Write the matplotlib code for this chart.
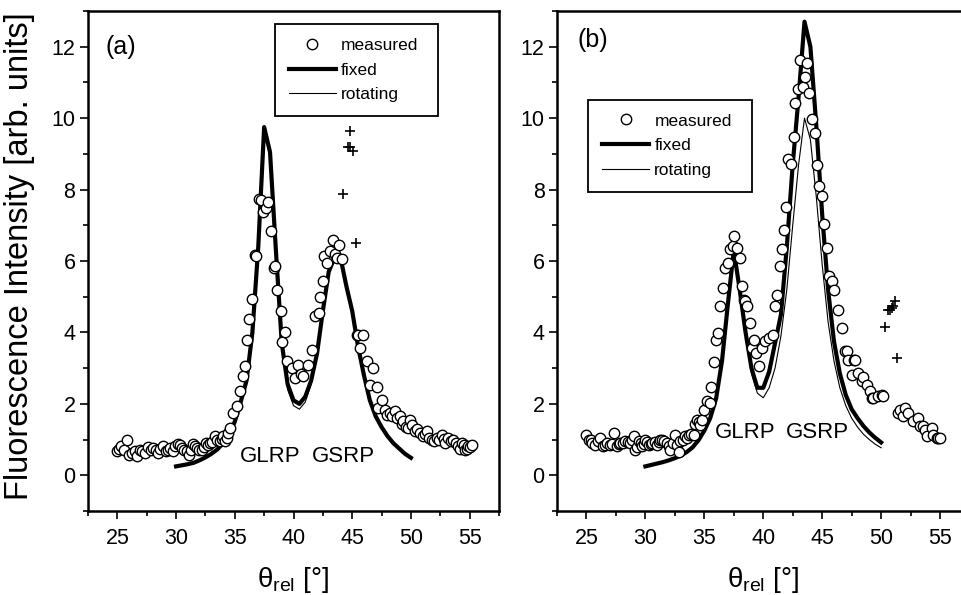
import numpy as np
import matplotlib
matplotlib.use('Agg')
import matplotlib.pyplot as plt
from matplotlib.ticker import MultipleLocator

plt.rcParams['font.family'] = ['Liberation Sans', 'DejaVu Sans']
plt.rcParams['mathtext.fontset'] = 'custom'
plt.rcParams['mathtext.rm'] = 'Liberation Sans'

# model curves, sampled every 0.5 deg from 30 to 50
theta_fit = np.arange(30, 50.01, 0.5)
fixed_a = [0.25, 0.28, 0.31, 0.35, 0.42, 0.50, 0.60, 0.72, 0.90, 1.15,
           1.50, 2.05, 2.65, 4.00, 6.40, 9.75, 9.05, 6.30, 3.70, 2.55,
           2.10, 2.00, 2.20, 2.65, 3.40, 4.60, 5.70, 6.10, 6.10, 5.30,
           4.60, 3.60, 2.80, 2.10, 1.65, 1.35, 1.10, 0.90, 0.75, 0.60, 0.49]
rotating_a = [0.25, 0.28, 0.31, 0.35, 0.42, 0.50, 0.60, 0.72, 0.90, 1.14,
              1.48, 2.02, 2.60, 3.95, 6.30, 9.60, 8.95, 6.20, 3.60, 2.40,
              1.95, 1.85, 2.05, 2.55, 3.35, 4.55, 5.65, 6.05, 6.05, 5.25,
              4.55, 3.55, 2.75, 2.05, 1.62, 1.33, 1.08, 0.89, 0.74, 0.60, 0.49]
fixed_b = [0.25, 0.29, 0.33, 0.37, 0.42, 0.48, 0.55, 0.65, 0.78, 0.98,
           1.25, 1.60, 2.15, 3.20, 4.80, 6.30, 5.20, 4.00, 3.00, 2.45,
           2.45, 2.90, 3.70, 4.50, 6.40, 8.70, 10.60, 12.70, 12.00, 9.80,
           7.30, 5.20, 3.75, 2.85, 2.25, 1.85, 1.60, 1.38, 1.20, 1.05, 0.92]
rotating_b = [0.25, 0.29, 0.33, 0.37, 0.42, 0.48, 0.55, 0.65, 0.78, 0.97,
              1.23, 1.58, 2.12, 3.15, 4.75, 6.20, 5.20, 3.90, 2.85, 2.30,
              2.17, 2.45, 3.00, 3.90, 5.20, 7.00, 8.70, 10.00, 9.40, 7.80,
              5.90, 4.30, 3.20, 2.45, 1.95, 1.60, 1.35, 1.15, 1.00, 0.87, 0.77]

# measured points, panel (a)
meas_a_x = [24.94, 25.10, 25.28, 25.57, 25.80, 26.00, 26.25, 26.50, 26.65, 26.93,
            27.10, 27.35, 27.64, 27.85, 28.06, 28.25, 28.43, 28.65, 28.86, 29.14,
            29.30, 29.48, 29.70, 29.90, 30.19, 30.35, 30.48, 30.70, 30.90, 31.10,
            31.25, 31.42, 31.60, 31.76, 31.95, 32.18, 32.35, 32.52, 32.70, 32.89,
            33.10, 33.32, 33.50, 33.74, 33.90, 34.03, 34.20, 34.31, 34.45, 34.60,
            34.88, 35.22, 35.45, 35.68, 35.87, 36.07, 36.24, 36.44, 36.72, 36.80,
            37.09, 37.20, 37.43, 37.66, 37.86, 38.06, 38.34, 38.45, 38.57, 38.91,
            39.00, 39.28, 39.42, 39.85, 40.13, 40.41, 40.60, 40.84, 41.27, 41.55,
            41.84, 42.13, 42.26, 42.50, 42.60, 42.88, 43.11, 43.40, 43.55, 43.69,
            43.91, 44.11, 45.38, 45.53, 45.67, 45.95, 46.24, 46.52, 46.75, 47.09,
            47.22, 47.52, 47.80, 47.95, 48.22, 48.40, 48.65, 48.80, 49.08, 49.20,
            49.36, 49.60, 49.78, 49.93, 50.10, 50.35, 50.55, 50.78, 51.06, 51.20,
            51.35, 51.55, 51.77, 52.00, 52.20, 52.40, 52.63, 52.80, 52.91, 53.19,
            53.40, 53.62, 53.80, 54.04, 54.20, 54.33, 54.50, 54.61, 54.75, 54.89,
            55.00, 55.18]
meas_a_y = [0.69, 0.75, 0.81, 0.72, 1.00, 0.58, 0.62, 0.67, 0.53, 0.72,
            0.68, 0.63, 0.79, 0.70, 0.77, 0.72, 0.63, 0.74, 0.81, 0.67,
            0.72, 0.77, 0.68, 0.81, 0.88, 0.85, 0.77, 0.72, 0.67, 0.58,
            0.70, 0.88, 0.82, 0.77, 0.70, 0.72, 0.80, 0.91, 0.86, 0.91,
            0.92, 1.09, 1.00, 0.95, 1.02, 1.09, 0.95, 1.05, 1.18, 1.33,
            1.75, 1.93, 2.35, 2.77, 3.05, 3.80, 4.37, 4.95, 6.17, 6.15,
            7.73, 7.70, 7.36, 7.48, 7.66, 6.84, 5.80, 5.85, 5.19, 4.59,
            3.72, 4.00, 3.19, 3.00, 2.72, 3.10, 2.85, 2.77, 3.10, 3.52,
            4.45, 4.54, 5.00, 5.43, 6.15, 5.94, 6.27, 6.59, 6.20, 6.08,
            6.45, 6.05, 3.94, 3.94, 3.56, 3.94, 3.19, 2.54, 3.00, 2.47,
            1.89, 2.12, 1.84, 1.70, 1.75, 1.65, 1.79, 1.60, 1.65, 1.45,
            1.51, 1.35, 1.33, 1.56, 1.40, 1.23, 1.30, 1.19, 1.09, 1.15,
            1.23, 1.05, 1.00, 0.95, 1.05, 1.00, 1.14, 1.02, 0.91, 1.05,
            0.95, 1.00, 0.90, 0.81, 0.75, 0.91, 0.86, 0.72, 0.75, 0.81,
            0.78, 0.86]
excl_a_x = [44.25, 44.67, 44.82, 44.85, 45.10, 45.33]
excl_a_y = [7.88, 9.20, 9.64, 9.18, 9.08, 6.50]

# measured points, panel (b)
meas_b_x = [25.00, 25.20, 25.35, 25.48, 25.76, 25.95, 26.19, 26.41, 26.60, 26.75,
            27.03, 27.20, 27.31, 27.60, 27.75, 27.88, 28.10, 28.31, 28.50, 28.73,
            28.90, 29.00, 29.15, 29.30, 29.43, 29.60, 29.72, 29.85, 30.00, 30.15,
            30.28, 30.45, 30.57, 30.80, 31.00, 31.15, 31.27, 31.40, 31.55, 31.80,
            31.97, 32.12, 32.30, 32.54, 32.70, 32.82, 32.97, 33.20, 33.39, 33.55,
            33.67, 33.90, 34.09, 34.25, 34.38, 34.55, 34.66, 34.80, 35.00, 35.23,
            35.45, 35.57, 35.79, 36.02, 36.16, 36.36, 36.58, 36.78, 36.98, 37.15,
            37.43, 37.54, 37.77, 38.05, 38.20, 38.33, 38.47, 38.62, 38.84, 39.04,
            39.18, 39.40, 39.60, 39.89, 40.17, 40.45, 40.82, 41.02, 41.16, 41.38,
            41.58, 41.72, 41.95, 42.14, 42.35, 42.57, 42.71, 42.91, 43.14, 43.36,
            43.56, 43.75, 43.92, 44.13, 44.41, 44.60, 44.77, 44.97, 45.17, 45.40,
            45.54, 45.82, 46.02, 46.30, 46.67, 46.95, 47.09, 47.23, 47.52, 47.71,
            47.80, 48.08, 48.36, 48.50, 48.79, 49.07, 49.20, 49.35, 49.77, 50.06,
            50.14, 51.47, 51.61, 51.89, 52.03, 52.31, 52.73, 53.16, 53.31, 53.59,
            53.73, 53.87, 54.30, 54.44, 54.72, 54.86, 55.00]
meas_b_y = [1.14, 1.00, 0.98, 0.91, 0.86, 0.95, 1.05, 0.81, 0.85, 0.91,
            0.86, 0.88, 1.19, 0.81, 0.88, 0.91, 0.90, 0.95, 0.93, 0.91,
            0.98, 1.09, 0.72, 0.80, 0.95, 0.90, 0.81, 0.88, 1.00, 0.92,
            0.86, 0.88, 0.91, 0.92, 0.86, 0.94, 1.00, 0.98, 0.95, 0.90,
            0.81, 0.72, 0.90, 1.14, 0.85, 0.64, 0.95, 1.00, 1.09, 1.05,
            1.14, 1.15, 1.14, 1.45, 1.56, 1.50, 1.42, 1.56, 1.84, 2.07,
            2.02, 2.47, 3.16, 3.80, 3.98, 4.73, 5.24, 5.80, 5.94, 6.33,
            6.41, 6.71, 6.36, 6.08, 5.29, 4.91, 4.87, 4.73, 4.26, 3.56,
            3.80, 3.42, 3.07, 3.56, 3.75, 3.84, 3.94, 4.73, 5.05, 5.85,
            6.33, 6.87, 7.50, 8.85, 8.72, 9.47, 10.43, 10.81, 11.63, 10.86,
            11.16, 11.55, 10.71, 9.97, 9.59, 8.69, 8.10, 7.82, 7.04, 6.36,
            5.57, 5.43, 5.19, 4.63, 4.12, 3.47, 3.47, 3.24, 2.82, 3.24,
            3.24, 2.86, 2.63, 2.75, 2.54, 2.35, 2.17, 2.17, 2.21, 2.26,
            2.23, 1.75, 1.84, 1.65, 1.89, 1.75, 1.51, 1.61, 1.37, 1.37,
            1.28, 1.09, 1.33, 1.14, 1.05, 1.05, 1.05]
excl_b_x = [50.34, 50.62, 50.75, 50.90, 51.05, 51.19, 51.33]
excl_b_y = [4.14, 4.63, 4.62, 4.68, 4.75, 4.87, 3.28]

fig = plt.figure(figsize=(9.61, 5.95), dpi=100)
ax_a = fig.add_axes([88 / 961, 84 / 595, 411 / 961, 500 / 595])
ax_b = fig.add_axes([557 / 961, 84 / 595, 412.5 / 961, 500 / 595])

panels = [
    (ax_a, fixed_a, rotating_a, meas_a_x, meas_a_y, excl_a_x, excl_a_y, '(a)',
     (24.03, 12.0), (35.45, 41.55, 0.36), (0.455, 0.795, 0.397, 0.179)),
    (ax_b, fixed_b, rotating_b, meas_b_x, meas_b_y, excl_b_x, excl_b_y, '(b)',
     (24.2, 12.19), (35.93, 41.95, 1.05), (0.076, 0.644, 0.396, 0.179)),
]

for ax, fx, rot, mx, my, ex, ey, tag, tagpos, lab, legbox in panels:
    ax.plot(theta_fit, rot, color='black', lw=0.8, label='rotating', zorder=2)
    ax.plot(theta_fit, fx, color='black', lw=3.0, label='fixed', zorder=3)
    ax.plot(mx, my, 'o', ms=7.5, mfc='white', mec='black', mew=1.0,
            label='measured', zorder=4)
    ax.plot(ex, ey, '+', ms=7, color='black', mew=1.2, zorder=4)

    ax.set_xlim(22.5, 57.5)
    ax.set_ylim(-1, 13)
    ax.xaxis.set_major_locator(MultipleLocator(5))
    ax.xaxis.set_minor_locator(MultipleLocator(2.5))
    ax.yaxis.set_major_locator(MultipleLocator(2))
    ax.yaxis.set_minor_locator(MultipleLocator(1))
    ax.tick_params(which='both', direction='out', top=False, right=False,
                   width=1.2, labelsize=15.5)
    ax.tick_params(which='major', length=6)
    ax.tick_params(which='minor', length=3.5)
    ax.tick_params(axis='x', pad=6)
    ax.tick_params(axis='y', pad=3)
    for sp in ax.spines.values():
        sp.set_linewidth(1.8)

    ax.text(tagpos[0], tagpos[1], tag, fontsize=18, va='center', ha='left')
    ax.text(lab[0], lab[2], 'GLRP', fontsize=16, va='baseline', ha='left')
    ax.text(lab[1], lab[2], 'GSRP', fontsize=16, va='baseline', ha='left')

    h, l = ax.get_legend_handles_labels()
    order = [2, 1, 0]
    leg = ax.legend([h[i] for i in order], [l[i] for i in order],
                    loc='upper left', bbox_to_anchor=legbox, mode='expand',
                    borderaxespad=0, fontsize=12.5, handlelength=2.7,
                    handletextpad=0.3, labelspacing=0.55, borderpad=0.8,
                    fancybox=False, framealpha=1, edgecolor='black', numpoints=1)
    leg.get_frame().set_linewidth(1.3)

    ax.set_xlabel(r'$\mathregular{\theta_{rel}}$ [°]', fontsize=20)
    ax.xaxis.set_label_coords(0.5, -0.108)
    ax.xaxis.label.set_va('top')

ax_a.set_ylabel('Fluorescence Intensity [arb. units]', fontsize=23.5)
ax_a.yaxis.set_label_coords(-0.13, 0.51)

fig.savefig('out.png', dpi=100)
